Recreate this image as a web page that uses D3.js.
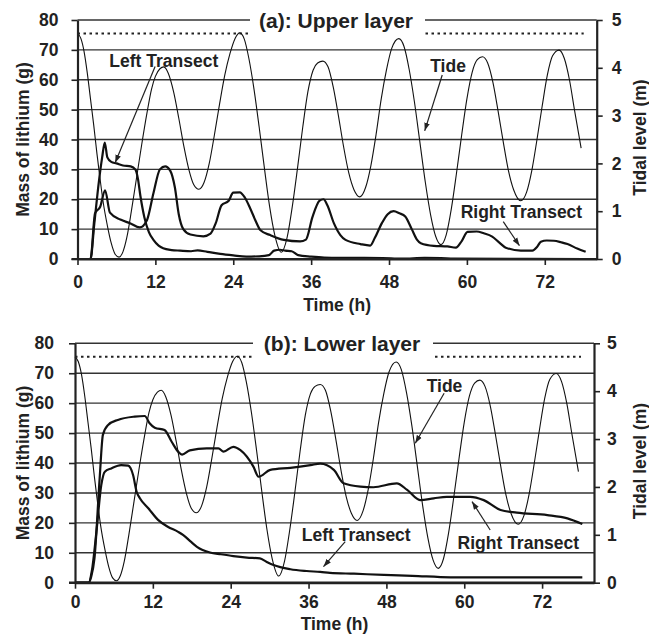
<!DOCTYPE html>
<html lang="en">
<head>
<meta charset="UTF-8">
<title>Lithium mass and tide</title>
<script src="https://cdn.jsdelivr.net/npm/d3@7"></script>
<style>
  body { margin: 0; background: #fff; }
  svg text { font-family: "Liberation Sans", Arial, Helvetica, sans-serif; font-weight: bold; fill: #222; }
</style>
</head>
<body>
<div id="chart"></div>
<script>
// ---- data ----
const xTicks = [0, 12, 24, 36, 48, 60, 72];
const massTicks = [0, 10, 20, 30, 40, 50, 60, 70, 80];
const tideTicks = [0, 1, 2, 3, 4, 5];
const refLevel = 4.72; // dotted line, tidal level (m)

// tide (m) vs time (h), same record for both panels
const tide = [
  [0, 4.72], [0.5, 4.62], [1, 4.35], [1.5, 3.9], [2, 3.35], [2.5, 2.8], [3, 2.2], [3.5, 1.65],
  [4, 1.15], [4.6, 0.7], [5.2, 0.33], [5.8, 0.1], [6.4, 0.04], [7, 0.15], [7.6, 0.45], [8.3, 1.0],
  [9.1, 1.7], [9.9, 2.4], [10.7, 3.05], [11.4, 3.55], [12, 3.82], [12.7, 3.98], [13.3, 4.02],
  [14, 3.88], [14.8, 3.5], [15.6, 2.95], [16.4, 2.35], [17.2, 1.85], [17.9, 1.56], [18.7, 1.46],
  [19.5, 1.6], [20.3, 2.0], [21.1, 2.6], [21.9, 3.25], [22.7, 3.85], [23.5, 4.3], [24.3, 4.62],
  [25, 4.73], [25.7, 4.6], [26.4, 4.2], [27.2, 3.55], [28, 2.75], [28.8, 1.9], [29.6, 1.1],
  [30.4, 0.5], [31.4, 0.14], [32.3, 0.45], [33.1, 1.1], [33.9, 1.9], [34.7, 2.75], [35.5, 3.5],
  [36.3, 3.95], [37, 4.1], [37.8, 4.14], [38.6, 4.02], [39.4, 3.6], [40.2, 3.0], [41, 2.35],
  [41.8, 1.8], [42.6, 1.45], [43.5, 1.3], [44.4, 1.5], [45.2, 1.95], [46, 2.6], [46.8, 3.35],
  [47.6, 3.95], [48.4, 4.4], [49.5, 4.61], [50.3, 4.45], [51.1, 3.97], [51.9, 3.3], [52.75, 2.45],
  [53.6, 1.6], [54.4, 0.93], [55.2, 0.47], [56, 0.3], [56.8, 0.5], [57.6, 1.05], [58.4, 1.8],
  [59.2, 2.6], [60, 3.35], [60.8, 3.9], [61.6, 4.17], [62.4, 4.23], [63.2, 4.1], [64, 3.7],
  [64.8, 3.1], [65.6, 2.45], [66.4, 1.85], [67.2, 1.45], [68.3, 1.22], [69.2, 1.4], [70, 1.85],
  [70.8, 2.5], [71.6, 3.2], [72.4, 3.85], [73.2, 4.25], [74.2, 4.37], [75, 4.2], [75.8, 3.75],
  [76.6, 3.1], [77.6, 2.32]
];

// (a) upper layer, mass of lithium (g)
const upperLeft = [
  [0, 0], [2, 0], [2.6, 12], [3.3, 26], [3.8, 34], [4.2, 39], [4.6, 34], [5.2, 32.5], [6, 32],
  [7, 31.3], [8.2, 31], [8.9, 30], [9.3, 27], [9.7, 21], [10.3, 14], [11, 9], [11.7, 6.4],
  [12.5, 4.5], [13.2, 3.6], [14.5, 3], [15.8, 2.8], [17.5, 2.6], [18.5, 2.9], [20, 2.4], [22, 1.7],
  [24, 1.2], [26, 0.8], [28, 0.9], [29.5, 1.3], [30.3, 2.8], [31.2, 3.1], [32, 2.8], [33, 2.6],
  [34, 1.3], [36, 0.8], [38, 0.5], [42, 0.4], [47, 0.3], [50, 0.1], [53.5, 0.4], [56, 0.3],
  [58, 0.1], [78.3, 0]
];
const upperRight = [
  [0, 0], [2, 0], [2.7, 15.3], [3.5, 17.5], [4.25, 23], [5, 15.5], [6.6, 13.2], [8.1, 12],
  [9.6, 10.6], [10.7, 13], [11.7, 22], [12.7, 30], [13.5, 31], [14.3, 29.5], [15, 24], [15.6, 15],
  [16.3, 10], [17.4, 8.2], [19.4, 7.6], [20.5, 8.5], [21.3, 12], [22.2, 18], [23.3, 19.5],
  [24, 22.2], [25, 22.3], [25.8, 20.5], [26.6, 17], [27.4, 13], [28.2, 9.6], [29.7, 8], [31.8, 6.4],
  [34.3, 5.9], [35.2, 6.5], [36.2, 14], [37.3, 19.5], [37.9, 20], [38.5, 18], [39.5, 12], [40.5, 8],
  [41.3, 6.4], [43.6, 5], [45.1, 4.5], [45.8, 7], [46.9, 12], [47.8, 15], [48.7, 16], [49.6, 15.3],
  [50.5, 14.2], [51.5, 10], [52.3, 6.5], [52.9, 5.3], [54.9, 4.4], [57, 4.2], [58.3, 3.8],
  [59.2, 6], [60.1, 9.1], [61.5, 9.2], [62.6, 8.6], [63.9, 7.5], [65, 5.5], [66, 3.8], [68.3, 2.8],
  [70.1, 2.8], [70.8, 4], [71.4, 5.8], [72.3, 6.2], [73.4, 6.1], [74.5, 5.6], [75.5, 5], [77, 3.5],
  [78.3, 2.4]
];

// (b) lower layer, mass of lithium (g)
const lowerLeft = [
  [0, 0], [2.1, 0], [2.6, 4], [3.3, 17], [4.05, 32.6], [4.6, 37.1], [5.6, 38.2], [7.1, 39.3],
  [8.2, 39.1], [8.95, 36], [9.5, 30.4], [10, 28.2], [11.3, 24.9], [12.8, 21], [14.3, 18.7],
  [15.9, 17], [16.7, 15.9], [17.8, 13.8], [18.8, 12], [20.8, 10.1], [22.5, 9.5], [24.4, 8.9],
  [26.5, 8.4], [28.5, 8.1], [29.5, 7], [30.6, 5.9], [33.2, 4.5], [35.7, 3.9], [37.8, 3.6],
  [39.3, 3.3], [43, 3], [47.6, 2.6], [52, 2.3], [57.9, 1.8], [78.2, 1.8]
];
const lowerRight = [
  [0, 0], [2.1, 0], [2.5, 2], [3, 8.1], [3.8, 34.9], [4.3, 49.4], [5.1, 52.7], [6.6, 54.4],
  [9.2, 55.5], [10.75, 55.7], [11.5, 53.3], [12.3, 51.8], [13.8, 51], [14.9, 47.1], [15.9, 43.8],
  [16.5, 42.8], [17.7, 44.2], [20.3, 44.9], [22.1, 44.9], [22.9, 43.8], [24.4, 45.4], [25.5, 44.3],
  [27.5, 38.8], [28.3, 35.4], [30.1, 37.7], [33.2, 38.4], [36.3, 39.3], [37.8, 39.8], [39.9, 37.7],
  [41.4, 33.2], [44, 32.1], [46, 31.9], [49.6, 33.2], [51.2, 31], [53.2, 27.6], [55.3, 28.2],
  [57.3, 28.7], [60.9, 28.7], [63, 27.6], [65.6, 24.3], [68.1, 23.4], [72.8, 22.6], [75.9, 21.5],
  [78.2, 19.6]
];

// ---- drawing ----
const W = 649, H = 636;
const fs = "17.5px";
const svg = d3.select("#chart").append("svg").attr("width", W).attr("height", H);

svg.append("defs").append("marker")
  .attr("id", "arrow").attr("viewBox", "0 0 10 10")
  .attr("refX", 10).attr("refY", 5)
  .attr("markerUnits", "userSpaceOnUse")
  .attr("markerWidth", 8).attr("markerHeight", 8)
  .attr("orient", "auto")
  .append("path").attr("d", "M0,1.5L10,5L0,8.5Z").attr("fill", "#222");

const panels = [
  {
    title: "(a): Upper layer", box: { x0: 77.5, x1: 596.7, y0: 20, y1: 259 },
    gap: [250, 425], titleX: 336, left: upperLeft, right: upperRight,
    pad: { left: 13, right: 9, bottom: 11 }, timeY: 305,
    notes: [
      { text: "Left Transect", at: [13.3, 66.3], from: [11.96, 64.4], to: [5.8, 32.2] },
      { text: "Tide", at: [57.1, 64.6], from: [56.2, 61.6], to: [53.5, 42.9] },
      { text: "Right Transect", at: [68.4, 15.6], from: [65.6, 12.5], to: [68.1, 4.45] }
    ]
  },
  {
    title: "(b): Lower layer", box: { x0: 75, x1: 594, y0: 343.3, y1: 582.7 },
    gap: [253, 433], titleX: 342, left: lowerLeft, right: lowerRight,
    pad: { left: 15, right: 7, bottom: 7 }, timeY: 624,
    notes: [
      { text: "Tide", at: [56.96, 65.7], from: [56.9, 63.3], to: [52.45, 46.6] },
      { text: "Left Transect", at: [43.35, 15.9], from: [41.65, 13.7], to: [38.3, 5.35] },
      { text: "Right Transect", at: [68.34, 13.2], from: [64.0, 17.6], to: [61.2, 27.1] }
    ]
  }
];

panels.forEach(p => {
  const b = p.box;
  const x = d3.scaleLinear().domain([0, 80]).range([b.x0, b.x1]);
  const yM = d3.scaleLinear().domain([0, 80]).range([b.y1, b.y0]);
  const yT = d3.scaleLinear().domain([0, 5]).range([b.y1, b.y0]);
  const g = svg.append("g");

  // horizontal grid lines
  g.append("g").selectAll("line")
    .data(massTicks.filter(d => d > 0))
    .join("line")
    .attr("x1", b.x0).attr("x2", b.x1)
    .attr("y1", d => yM(d)).attr("y2", d => yM(d))
    .attr("stroke", "#333").attr("stroke-width", 1.4);

  // dotted reference line
  g.append("line")
    .attr("x1", b.x0).attr("x2", b.x1 - 13)
    .attr("y1", yT(refLevel)).attr("y2", yT(refLevel))
    .attr("stroke", "#222").attr("stroke-width", 2)
    .attr("stroke-dasharray", "2.5,3.5");

  // blank out behind the title
  g.append("rect")
    .attr("x", p.gap[0]).attr("width", p.gap[1] - p.gap[0])
    .attr("y", b.y0 - 12).attr("height", 28)
    .attr("fill", "#fff");

  // series
  const lineT = d3.line().x(d => x(d[0])).y(d => yT(d[1])).curve(d3.curveMonotoneX);
  const lineM = d3.line().x(d => x(d[0])).y(d => yM(d[1])).curve(d3.curveMonotoneX);
  g.append("path").datum(tide).attr("d", lineT)
    .attr("fill", "none").attr("stroke", "#111").attr("stroke-width", 1.1);
  [p.left, p.right].forEach(s => {
    g.append("path").datum(s).attr("d", lineM)
      .attr("fill", "none").attr("stroke", "#111").attr("stroke-width", 2.2)
      .attr("stroke-linejoin", "round");
  });

  // axes
  const ax = g.append("g").attr("transform", `translate(${b.x0},0)`)
    .call(d3.axisLeft(yM).tickValues(massTicks).tickSize(6).tickSizeOuter(0).tickPadding(p.pad.left));
  const ar = g.append("g").attr("transform", `translate(${b.x1},0)`)
    .call(d3.axisRight(yT).tickValues(tideTicks).tickFormat(d3.format("d"))
      .tickSize(6).tickSizeOuter(0).tickPadding(p.pad.right));
  const ab = g.append("g").attr("transform", `translate(0,${b.y1})`)
    .call(d3.axisBottom(x).tickValues(xTicks).tickSize(6).tickSizeOuter(0).tickPadding(p.pad.bottom));
  [ax, ar, ab].forEach(a => {
    a.select(".domain").attr("stroke", "#222").attr("stroke-width", 2.2);
    a.selectAll(".tick line").attr("stroke", "#222").attr("stroke-width", 1.6);
    a.selectAll(".tick text").style("font-size", fs).attr("fill", "#222");
  });
  // x axis line also runs out to the left tick
  g.append("line")
    .attr("x1", b.x0 - 6).attr("x2", b.x1)
    .attr("y1", b.y1).attr("y2", b.y1)
    .attr("stroke", "#222").attr("stroke-width", 2.2);

  // axis titles
  const midY = (b.y0 + b.y1) / 2;
  g.append("text").text("Mass of lithium (g)")
    .attr("transform", `translate(23,${midY}) rotate(-90)`)
    .attr("text-anchor", "middle").attr("dominant-baseline", "central")
    .style("font-size", fs);
  g.append("text").text("Tidal level (m)")
    .attr("transform", `translate(640,${midY - 2}) rotate(-90)`)
    .attr("text-anchor", "middle").attr("dominant-baseline", "central")
    .style("font-size", fs);
  g.append("text").text("Time (h)")
    .attr("x", (b.x0 + b.x1) / 2).attr("y", p.timeY)
    .attr("text-anchor", "middle").attr("dominant-baseline", "central")
    .style("font-size", fs);

  // annotations
  p.notes.forEach(n => {
    g.append("line")
      .attr("x1", x(n.from[0])).attr("y1", yM(n.from[1]))
      .attr("x2", x(n.to[0])).attr("y2", yM(n.to[1]))
      .attr("stroke", "#222").attr("stroke-width", 1.2)
      .attr("marker-end", "url(#arrow)");
    g.append("text").text(n.text)
      .attr("x", x(n.at[0])).attr("y", yM(n.at[1]))
      .attr("text-anchor", "middle").attr("dominant-baseline", "central")
      .style("font-size", fs);
  });

  // panel title
  g.append("text").text(p.title)
    .attr("x", p.titleX).attr("y", b.y0)
    .attr("text-anchor", "middle").attr("dominant-baseline", "central")
    .style("font-size", "21px");
});
</script>
</body>
</html>
